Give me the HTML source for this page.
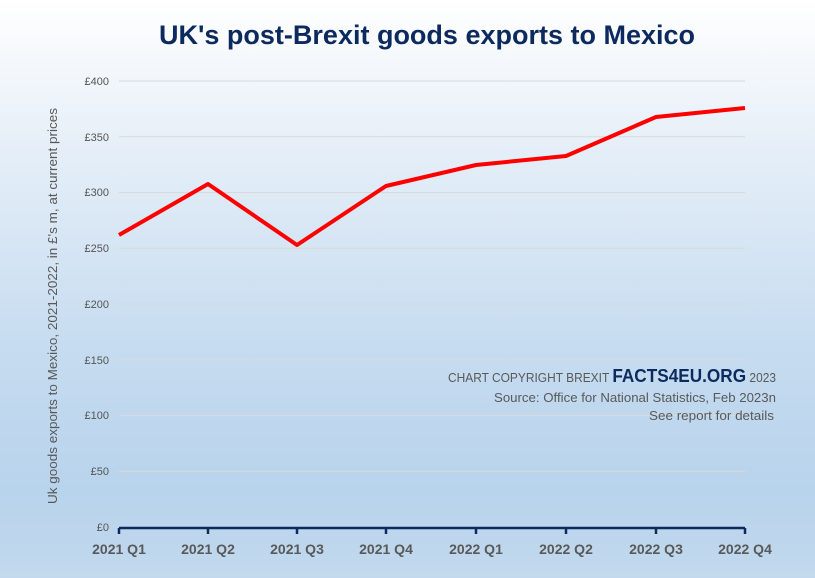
<!DOCTYPE html>
<html><head><meta charset="utf-8"><style>
html,body{margin:0;padding:0}
body{width:815px;height:578px;overflow:hidden;background:linear-gradient(to bottom,#ffffff 0%,#e6eff8 25%,#c6dcf0 60%,#b8d3ec 85%,#c2d9ee 100%);font-family:"Liberation Sans","DejaVu Sans",sans-serif}
</style></head><body>
<svg width="815" height="578" xmlns="http://www.w3.org/2000/svg" style="position:absolute;left:0;top:0">
<text x="427" y="44" text-anchor="middle" font-family="Liberation Sans, sans-serif" font-weight="bold" font-size="27" fill="#0d2a5e">UK's post-Brexit goods exports to Mexico</text>
<g stroke="#d9d9d9" stroke-width="1">
<line x1="119" x2="745" y1="81" y2="81"/><line x1="119" x2="745" y1="136.75" y2="136.75"/>
<line x1="119" x2="745" y1="192.5" y2="192.5"/><line x1="119" x2="745" y1="248.25" y2="248.25"/>
<line x1="119" x2="745" y1="304" y2="304"/><line x1="119" x2="745" y1="359.75" y2="359.75"/>
<line x1="119" x2="745" y1="415.5" y2="415.5"/><line x1="119" x2="745" y1="471.25" y2="471.25"/>
</g>
<g font-size="11" fill="#555" text-anchor="end">
<text x="109" y="85">£400</text><text x="109" y="141">£350</text><text x="109" y="196">£300</text>
<text x="109" y="252">£250</text><text x="109" y="308">£200</text><text x="109" y="364">£150</text>
<text x="109" y="419">£100</text><text x="109" y="475">£50</text><text x="109" y="531">£0</text>
</g>
<text transform="translate(57,306) rotate(-90)" text-anchor="middle" font-size="13" fill="#595959" textLength="396" lengthAdjust="spacingAndGlyphs">Uk goods exports to Mexico, 2021-2022, in £'s m,  at current prices</text>
<line x1="119" x2="745" y1="528" y2="528" stroke="#0d2a5e" stroke-width="2.5"/>
<g stroke="#0d2a5e" stroke-width="2.5">
<line x1="119" x2="119" y1="528" y2="534"/><line x1="208" x2="208" y1="528" y2="534"/><line x1="297" x2="297" y1="528" y2="534"/><line x1="386" x2="386" y1="528" y2="534"/><line x1="476" x2="476" y1="528" y2="534"/><line x1="566" x2="566" y1="528" y2="534"/><line x1="656" x2="656" y1="528" y2="534"/><line x1="745" x2="745" y1="528" y2="534"/>
</g>
<g font-size="14" font-weight="bold" fill="#595959" text-anchor="middle">
<text x="119" y="554">2021 Q1</text><text x="208" y="554">2021 Q2</text><text x="297" y="554">2021 Q3</text><text x="386" y="554">2021 Q4</text>
<text x="476" y="554">2022 Q1</text><text x="566" y="554">2022 Q2</text><text x="656" y="554">2022 Q3</text><text x="745" y="554">2022 Q4</text>
</g>
<polyline points="119,235 208,184 297,245 386,186 476,165 566,156 656,117 745,108" fill="none" stroke="#ff0000" stroke-width="4" stroke-linejoin="round"/>
<g text-anchor="end" font-size="12.5" fill="#595959">
<text x="776" y="382" textLength="328" lengthAdjust="spacingAndGlyphs">CHART COPYRIGHT BREXIT <tspan font-size="18" font-weight="bold" fill="#0d2a5e">FACTS4EU.ORG</tspan> 2023</text>
<text x="776" y="402" textLength="282" lengthAdjust="spacingAndGlyphs">Source: Office for National Statistics, Feb 2023n</text>
<text x="774" y="420" textLength="125" lengthAdjust="spacingAndGlyphs">See report for details</text>
</g>
</svg>
</body></html>
